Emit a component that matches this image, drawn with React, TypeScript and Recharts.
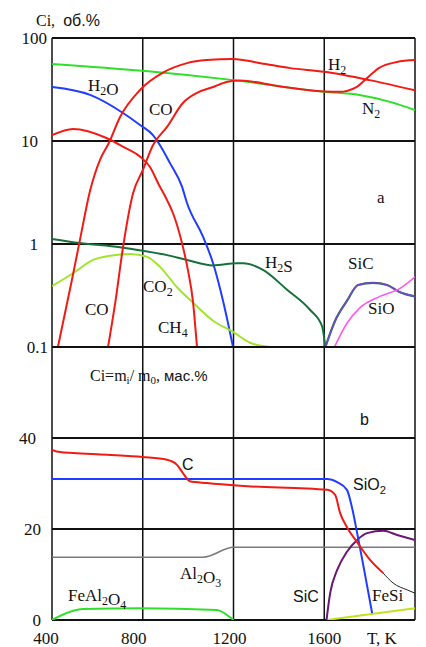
import React from 'react';
import { LineChart, Line, XAxis, YAxis, ReferenceLine } from 'recharts';

type Pt = { t: number; v: number };
const pts = (arr: number[][]): Pt[] => arr.map(([t, v]) => ({ t, v }));

// (a) gas phase, vol.% (log scale)
const N2 = pts([[400, 56], [800, 48], [1200, 39], [1600, 30], [1755, 28], [1890, 24], [2000, 20]]);
const H2 = pts([[426, 0.1], [488, 0.45], [523, 1.09], [568, 3.3], [612, 6.6], [650, 9.5], [700, 17.1], [788, 31.3], [889, 46], [995, 57], [1083, 61], [1198, 62.5], [1320, 57], [1450, 51], [1600, 47], [1800, 39], [2000, 31]]);
const CO = pts([[647, 0.1], [680, 0.28], [713, 0.93], [757, 3.1], [800, 5.2], [845, 9.1], [907, 13.7], [977, 23.4], [1039, 29.3], [1110, 33.4], [1170, 37.4], [1230, 38.6], [1400, 34], [1600, 30.3], [1665, 30], [1742, 33.4], [1790, 41], [1840, 51], [1920, 58.5], [2000, 61]]);
const CH4 = pts([[400, 11.4], [493, 13.1], [640, 10.7], [713, 8.8], [790, 7.0], [832, 5.6], [870, 3.8], [907, 2.67], [933, 2.0], [973, 1.02], [999, 0.56], [1021, 0.28], [1039, 0.1]]);
const H2O = pts([[400, 33.4], [568, 28], [713, 18.7], [788, 14.3], [845, 11.4], [876, 9.1], [920, 6.1], [973, 3.6], [995, 2.5], [1066, 1.17], [1110, 0.65], [1154, 0.28], [1198, 0.1]]);
const CO2 = pts([[400, 0.39], [493, 0.52], [581, 0.7], [656, 0.77], [744, 0.8], [819, 0.75], [876, 0.6], [951, 0.38], [1021, 0.27], [1110, 0.18], [1198, 0.14], [1273, 0.11], [1361, 0.1]]);
const H2S = pts([[400, 1.12], [523, 1.02], [700, 0.93], [800, 0.86], [907, 0.78], [995, 0.7], [1110, 0.62], [1216, 0.65], [1242, 0.65], [1330, 0.56], [1436, 0.36], [1537, 0.23], [1590, 0.16], [1605, 0.1]]);
const SiCgas = pts([[1605, 0.1], [1648, 0.18], [1700, 0.28], [1749, 0.4], [1815, 0.42], [1877, 0.4], [1934, 0.34], [2000, 0.31]]);
const SiO = pts([[1645, 0.1], [1700, 0.17], [1757, 0.24], [1845, 0.31], [1934, 0.37], [2000, 0.48]]);

// (b) condensed phase, mass %
const C = pts([[400, 37.4], [435, 36.9], [493, 36.7], [642, 36.3], [800, 35.8], [907, 35.2], [951, 34.1], [977, 32.3], [1008, 30.5], [1083, 30.1], [1229, 29.5], [1613, 28.6], [1648, 27.5], [1670, 23.5], [1700, 20.4], [1745, 17.1], [1802, 13.2], [1860, 10.3]]);
const Ctail = pts([[1860, 10.3], [1904, 8.1], [1966, 6.6], [2000, 5.9]]);
const SiO2 = pts([[400, 31], [1613, 31], [1657, 30.3], [1700, 28.6], [1722, 24.8], [1745, 19.1], [1811, 1.5]]);
const Al2O3 = pts([[400, 13.8], [1066, 13.8], [1200, 16], [2000, 16]]);
const FeAl2O4 = pts([[400, 0], [480, 1.8], [537, 2.4], [788, 2.6], [1127, 2.2], [1149, 1.8], [1200, 0]]);
const SiC = pts([[1610, 0], [1626, 5.9], [1657, 11], [1700, 15], [1745, 17.6], [1789, 19.1], [1860, 19.6], [1921, 18.7], [2000, 17.6]]);
const FeSi = pts([[1610, 0], [2000, 2.6]]);

const xTicks = [400, 800, 1200, 1600];
const logTicks = [0.1, 1, 10, 100];
const massTicks = [0, 20, 40];

const SERIF = '"Liberation Serif", "DejaVu Serif", serif';
const SANS = '"Liberation Sans", Arial, sans-serif';
const GRID = '#111';

// small hand offsets so the tick text sits where the scan has it
const logTickRight: Record<number, number> = { 100: 47, 10: 38, 1: 38, 0.1: 48 };
const massTickRight: Record<number, number> = { 40: 36, 20: 41, 0: 41 };
const xTickShift: Record<number, number> = { 400: -6, 800: -9, 1200: -4, 1600: 0 };

function LogTick(props: any) {
  const { y, payload } = props;
  return (
    <text x={logTickRight[payload.value]} y={y} dy="0.35em" textAnchor="end" fontFamily={SERIF} fontSize={17} fill="#111">
      {String(payload.value)}
    </text>
  );
}

function MassTick(props: any) {
  const { y, payload } = props;
  return (
    <text x={massTickRight[payload.value]} y={y} dy="0.35em" textAnchor="end" fontFamily={SERIF} fontSize={17} fill="#111">
      {payload.value}
    </text>
  );
}

function XTick(props: any) {
  const { x, payload } = props;
  return (
    <text x={x + (xTickShift[payload.value] ?? 0)} y={644} textAnchor="middle" fontFamily={SERIF} fontSize={17} fill="#111">
      {payload.value}
    </text>
  );
}

// "H_2O" -> H, subscript 2, O
function Chem({ x, y, s, font = SERIF, size = 17 }: { x: number; y: number; s: string; font?: string; size?: number }) {
  const parts: React.ReactNode[] = [];
  let sub = false;
  for (let i = 0; i < s.length; i++) {
    const ch = s[i];
    if (ch === '_') { sub = true; continue; }
    if (sub) {
      parts.push(<tspan key={i} dy={4} fontSize={size * 0.7}>{ch}</tspan>);
      parts.push(<tspan key={i + 'r'} dy={-4} fontSize={size}>{''}</tspan>);
      sub = false;
    } else {
      parts.push(<tspan key={i}>{ch}</tspan>);
    }
  }
  return (
    <text x={x} y={y} fontFamily={font} fontSize={size} fill="#111">
      {parts}
    </text>
  );
}

const line = (data: Pt[], color: string, width = 2, key?: string, opacity = 1) => (
  <Line
    key={key}
    data={data}
    dataKey="v"
    type="monotone"
    stroke={color}
    strokeWidth={width}
    strokeOpacity={opacity}
    dot={false}
    activeDot={false}
    isAnimationActive={false}
  />
);

const RED = '#f21a14';

export default function App() {
  return (
    <div style={{ position: 'absolute', left: 0, top: 0, width: 426, height: 647, background: '#fff', overflow: 'hidden' }}>
      <div style={{ position: 'absolute', left: 0, top: 0 }}>
        <LineChart width={426} height={360} margin={{ top: 38, right: 11, bottom: 13, left: 0 }}>
          <XAxis type="number" dataKey="t" domain={[400, 2000]} hide allowDataOverflow />
          <YAxis
            scale="log"
            domain={[0.1, 100]}
            ticks={logTicks}
            width={52}
            axisLine={false}
            tickLine={false}
            tickSize={0}
            tickMargin={0}
            tick={<LogTick />}
            allowDataOverflow
          />
          {[400, 800, 1200, 1600, 2000].map((t) => (
            <ReferenceLine key={'vx' + t} x={t} stroke={GRID} strokeWidth={1.5} />
          ))}
          {[0.1, 1, 10, 100].map((v) => (
            <ReferenceLine key={'hy' + v} y={v} stroke={GRID} strokeWidth={2} />
          ))}
          {line(N2, '#2fe02a', 2, 'n2')}
          {line(H2O, '#1f3cff', 2, 'h2o')}
          {line(CO2, '#9fe52a', 2, 'co2')}
          {line(H2S, '#17703a', 2, 'h2s')}
          {line(SiCgas, '#17703a', 2.2, 'sicg')}
          {line(SiCgas, '#8a3ff0', 1.4, 'sicg2', 0.85)}
          {line(SiO, '#ff55ee', 1.5, 'sio')}
          {line(H2, RED, 2, 'h2')}
          {line(CO, RED, 2, 'co')}
          {line(CH4, RED, 2, 'ch4')}
        </LineChart>
      </div>
      <div style={{ position: 'absolute', left: 0, top: 0 }}>
        <LineChart width={426} height={647} margin={{ top: 347, right: 11, bottom: 0, left: 0 }}>
          <XAxis
            type="number"
            dataKey="t"
            domain={[400, 2000]}
            ticks={xTicks}
            height={27}
            axisLine={false}
            tickLine={false}
            tick={<XTick />}
            allowDataOverflow
          />
          <YAxis
            domain={[0, 60]}
            ticks={massTicks}
            width={52}
            axisLine={false}
            tickLine={false}
            tickSize={0}
            tickMargin={0}
            tick={<MassTick />}
            allowDataOverflow
          />
          {[400, 800, 1200, 1600, 2000].map((t) => (
            <ReferenceLine key={'bx' + t} x={t} stroke={GRID} strokeWidth={1.5} />
          ))}
          {[0, 20, 40, 60].map((v) => (
            <ReferenceLine key={'by' + v} y={v} stroke={GRID} strokeWidth={2} />
          ))}
          {line(FeAl2O4, '#2fe02a', 2, 'feal')}
          {line(Al2O3, '#7a7a7a', 1.5, 'al')}
          {line(FeSi, '#c4e21c', 2, 'fesi')}
          {line(SiC, '#6a1672', 2, 'sic')}
          {line(SiO2, '#1f3cff', 2, 'sio2')}
          {line(C, RED, 2, 'c')}
          {line(Ctail, '#222', 1, 'ctail')}
        </LineChart>
      </div>
      <svg width={426} height={647} style={{ position: 'absolute', left: 0, top: 0, pointerEvents: 'none' }}>
        <text x={36} y={26} fontSize={16} fill="#111">
          <tspan fontFamily={SERIF}>Ci,</tspan>
          <tspan fontFamily={SANS} dx={8}>об.%</tspan>
        </text>
        <Chem x={88} y={91} s="H_2O" />
        <Chem x={149} y={115} s="CO" />
        <Chem x={328} y={70} s="H_2" />
        <Chem x={362} y={114} s="N_2" />
        <Chem x={377} y={203} s="a" />
        <Chem x={265} y={268} s="H_2S" />
        <Chem x={348} y={269} s="SiC" />
        <Chem x={368} y={314} s="SiO" />
        <Chem x={143} y={292} s="CO_2" />
        <Chem x={85} y={315} s="CO" />
        <Chem x={158} y={333} s="CH_4" />
        <text x={90} y={381} fontSize={16} fill="#111" fontFamily={SERIF}>
          <tspan>Ci=m</tspan>
          <tspan dy={3} fontSize={11}>i</tspan>
          <tspan dy={-3}>/ m</tspan>
          <tspan dy={3} fontSize={11}>0</tspan>
          <tspan dy={-3}>, </tspan>
          <tspan fontFamily={SANS} fontSize={15}>мас.%</tspan>
        </text>
        <Chem x={360} y={425} s="b" font={SANS} size={16} />
        <Chem x={182} y={470} s="C" font={SANS} size={16} />
        <Chem x={353} y={490} s="SiO_2" font={SANS} size={16} />
        <Chem x={180} y={579} s="Al_2O_3" />
        <Chem x={68} y={601} s="FeAl_2O_4" />
        <Chem x={293} y={602} s="SiC" font={SANS} size={16} />
        <Chem x={372} y={601} s="FeSi" />
        <text x={367} y={644} fontFamily={SERIF} fontSize={17} fill="#111">T, K</text>
      </svg>
    </div>
  );
}
